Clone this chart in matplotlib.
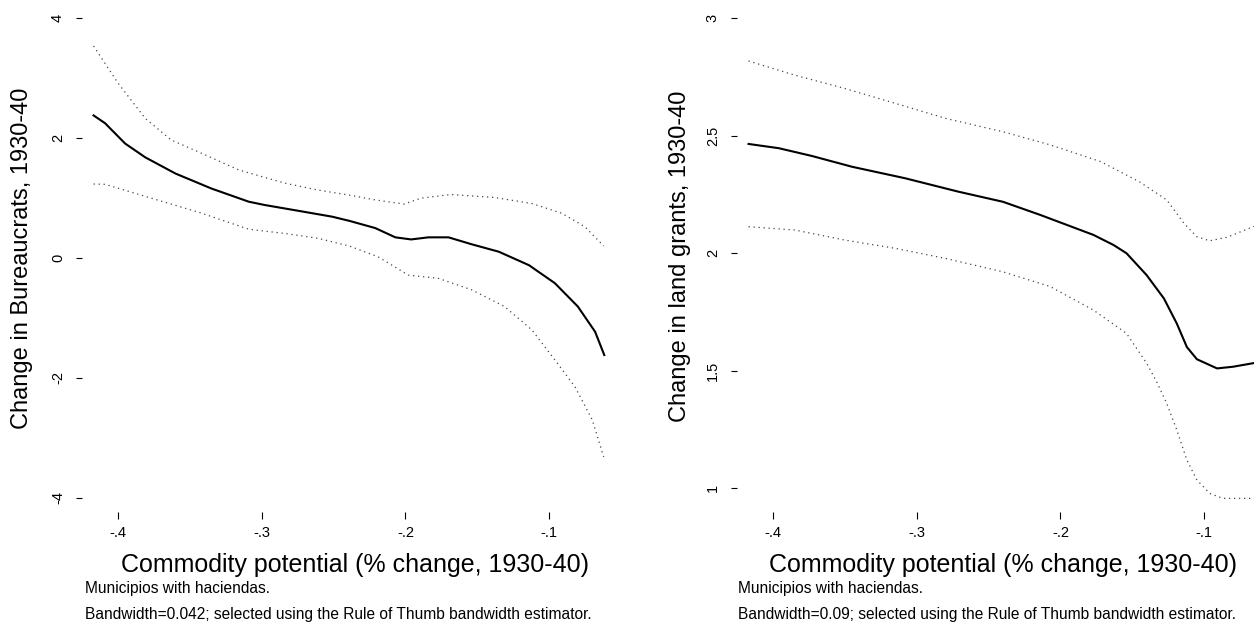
import matplotlib
matplotlib.use("Agg")
import matplotlib.pyplot as plt

plt.rcParams['font.family'] = ['Liberation Sans', 'DejaVu Sans']

# ---------------- data: left panel (Bureaucrats) ----------------
bur_x_mean = [-0.417, -0.409, -0.395, -0.381, -0.360, -0.335, -0.309, -0.298, -0.275, -0.251,
              -0.239, -0.221, -0.207, -0.196, -0.184, -0.170, -0.154, -0.135, -0.114, -0.096,
              -0.080, -0.068, -0.0616]
bur_mean = [2.38, 2.25, 1.91, 1.68, 1.41, 1.16, 0.94, 0.885, 0.79, 0.69,
            0.62, 0.50, 0.345, 0.31, 0.345, 0.345, 0.23, 0.105, -0.12, -0.42,
            -0.81, -1.23, -1.62]
bur_x_up = [-0.417, -0.400, -0.381, -0.363, -0.342, -0.316, -0.284, -0.261, -0.239, -0.221,
            -0.201, -0.189, -0.168, -0.138, -0.112, -0.091, -0.075, -0.062]
bur_up = [3.54, 2.92, 2.33, 1.97, 1.75, 1.47, 1.25, 1.135, 1.05, 0.97,
          0.90, 1.00, 1.06, 1.01, 0.91, 0.745, 0.52, 0.20]
bur_x_lo = [-0.417, -0.409, -0.377, -0.342, -0.309, -0.284, -0.261, -0.239, -0.219, -0.198,
            -0.177, -0.154, -0.131, -0.112, -0.096, -0.082, -0.070, -0.062]
bur_lo = [1.235, 1.23, 1.00, 0.75, 0.48, 0.41, 0.33, 0.20, 0.02, -0.285,
          -0.34, -0.53, -0.81, -1.20, -1.70, -2.15, -2.70, -3.32]

# ---------------- data: right panel (land grants) ----------------
land_x_mean = [-0.417, -0.396, -0.373, -0.345, -0.308, -0.271, -0.240, -0.214, -0.177, -0.163,
               -0.154, -0.140, -0.128, -0.119, -0.112, -0.105, -0.091, -0.080, -0.066, -0.062]
land_mean = [2.464, 2.446, 2.413, 2.367, 2.318, 2.261, 2.218, 2.162, 2.077, 2.034,
             1.999, 1.906, 1.807, 1.70, 1.60, 1.548, 1.509, 1.516, 1.531, 1.536]
land_x_up = [-0.417, -0.385, -0.350, -0.315, -0.280, -0.240, -0.207, -0.172, -0.145, -0.126,
             -0.114, -0.105, -0.096, -0.084, -0.067, -0.062]
land_up = [2.817, 2.757, 2.70, 2.637, 2.573, 2.516, 2.46, 2.389, 2.303, 2.226,
           2.126, 2.069, 2.052, 2.067, 2.109, 2.12]
land_x_lo = [-0.417, -0.385, -0.350, -0.315, -0.280, -0.240, -0.207, -0.177, -0.154, -0.140,
             -0.133, -0.126, -0.119, -0.112, -0.105, -0.096, -0.087, -0.068, -0.062]
land_lo = [2.112, 2.098, 2.055, 2.02, 1.977, 1.92, 1.857, 1.757, 1.658, 1.531,
           1.452, 1.36, 1.247, 1.119, 1.034, 0.977, 0.956, 0.956, 0.956]

x_ticks = [-0.4, -0.3, -0.2, -0.1]
x_ticklabels = ['-.4', '-.3', '-.2', '-.1']
bur_yticks = [-4, -2, 0, 2, 4]
bur_yticklabels = ['-4', '-2', '0', '2', '4']
land_yticks = [1, 1.5, 2, 2.5, 3]
land_yticklabels = ['1', '1.5', '2', '2.5', '3']

xlabel = 'Commodity potential (% change, 1930-40)'
bur_ylabel = 'Change in Bureaucrats, 1930-40'
land_ylabel = 'Change in land grants, 1930-40'
note1 = 'Municipios with haciendas.'
bur_note2 = 'Bandwidth=0.042; selected using the Rule of Thumb bandwidth estimator.'
land_note2 = 'Bandwidth=0.09; selected using the Rule of Thumb bandwidth estimator.'

# ---------------- layout ----------------
W, H = 1254, 625
fig = plt.figure(figsize=(W / 100, H / 100), dpi=100)


def fx(px):
    return px / W


def fy(py):
    return 1 - py / H


def make_axes(left_px, right_px, top_px, bottom_px, xlim, ylim):
    ax = fig.add_axes([fx(left_px), fy(bottom_px), (right_px - left_px) / W, (bottom_px - top_px) / H])
    ax.set_xlim(*xlim)
    ax.set_ylim(*ylim)
    for s in ax.spines.values():
        s.set_visible(False)
    ax.tick_params(axis='x', direction='out', length=5, width=0.8, pad=5, labelsize=10.5)
    ax.tick_params(axis='y', direction='out', length=4.3, width=0.8, pad=8, labelsize=10.5)
    return ax


def draw(ax, xm, ym, xu, yu, xl, yl):
    ax.plot(xm, ym, color='black', lw=1.5, solid_joinstyle='round')
    ax.plot(xu, yu, color='#444444', lw=0.9, linestyle=(0, (1, 3)))
    ax.plot(xl, yl, color='#444444', lw=0.9, linestyle=(0, (1, 3)))


XLIM = (-0.42505, -0.04718)

# left panel
ax1 = make_axes(82, 625, 10, 512, XLIM, (-4.240, 4.140))
draw(ax1, bur_x_mean, bur_mean, bur_x_up, bur_up, bur_x_lo, bur_lo)
ax1.set_xticks(x_ticks, x_ticklabels)
ax1.set_yticks(bur_yticks, bur_yticklabels)
for t in ax1.get_yticklabels():
    t.set_rotation(90)
    t.set_va('center')

# right panel
ax2 = make_axes(737, 1280, 10, 512, XLIM, (0.898, 3.034))
draw(ax2, land_x_mean, land_mean, land_x_up, land_up, land_x_lo, land_lo)
ax2.set_xticks(x_ticks, x_ticklabels)
ax2.set_yticks(land_yticks, land_yticklabels)
for t in ax2.get_yticklabels():
    t.set_rotation(90)
    t.set_va('center')

# axis titles and notes
fig.text(fx(355), fy(565), xlabel, ha='center', va='center', fontsize=18)
fig.text(fx(1003), fy(565), xlabel, ha='center', va='center', fontsize=18)
fig.text(fx(22), fy(258), bur_ylabel, ha='center', va='center', rotation=90, fontsize=17)
fig.text(fx(680), fy(256), land_ylabel, ha='center', va='center', rotation=90, fontsize=17)

fig.text(fx(85), fy(589), note1, ha='left', va='center', fontsize=11.2)
fig.text(fx(85), fy(615), bur_note2, ha='left', va='center', fontsize=11.2)
fig.text(fx(738), fy(589), note1, ha='left', va='center', fontsize=11.2)
fig.text(fx(738), fy(615), land_note2, ha='left', va='center', fontsize=11.2)

fig.savefig('out.png', dpi=100)
